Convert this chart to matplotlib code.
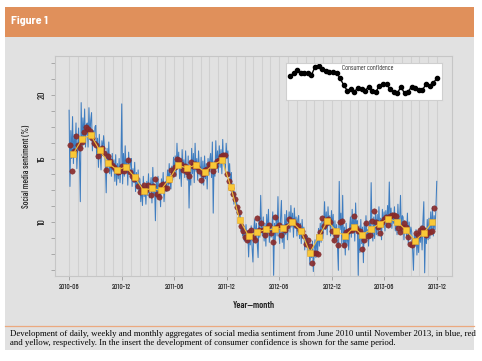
import numpy as np
import pandas as pd
import matplotlib
matplotlib.use('Agg')
import matplotlib.pyplot as plt
import matplotlib.dates as mdates
from matplotlib.patches import Rectangle
from matplotlib.lines import Line2D
from matplotlib.ticker import MultipleLocator, FixedLocator

daily_sentiment = [
    18.8, 12.8, 17.2, 15.0, 18.3, 14.6, 16.9, 15.4, 17.8, 14.2,
    16.0, 17.4, 15.2, 11.6, 19.4, 15.8, 18.2, 16.4, 18.9, 15.9, 17.6,
    17.8, 15.9, 19.0, 16.5, 18.0, 18.6, 15.6, 17.2, 16.1, 17.5,
    17.6, 15.0, 16.6, 14.3, 16.9, 15.2, 14.1, 16.4, 15.6, 16.8,
    15.9, 14.6, 12.3, 15.8, 14.2, 16.3, 13.8, 15.1, 13.6, 15.4, 14.0,
    14.9, 13.2, 15.3, 12.9, 14.6, 13.4, 15.0, 13.1, 14.4, 19.3,
    13.0, 15.4, 13.6, 16.0, 13.9, 14.8, 12.9, 15.5, 13.8, 14.6,
    15.0, 12.8, 14.2, 13.1, 14.7, 12.4, 13.9, 12.6, 14.1, 12.2,
    13.4, 11.6, 12.9, 11.3, 13.6, 12.0, 12.8, 11.4, 13.2, 12.1,
    13.8, 11.9, 12.7, 13.5, 11.5, 14.3, 12.2, 13.0, 10.1, 13.4, 12.0,
    13.6, 11.8, 12.9, 11.2, 13.4, 12.3, 13.9, 11.6, 12.8, 13.2,
    12.4, 14.1, 12.9, 14.6, 13.0, 12.6, 14.4, 13.3, 15.1, 13.8,
    15.2, 13.6, 16.2, 14.3, 15.5, 13.4, 14.8, 12.8, 15.7, 14.0,
    14.9, 13.5, 15.6, 14.0, 13.3, 15.2, 11.1, 14.4, 12.9, 15.8,
    13.8, 15.4, 13.1, 16.2, 14.0, 15.0, 13.3, 15.6, 14.2, 13.6, 15.1,
    13.0, 14.8, 12.9, 15.2, 13.4, 14.6, 12.6, 15.0, 13.7, 14.9,
    15.4, 13.5, 16.3, 10.7, 14.8, 13.6, 16.4, 14.2, 15.6, 13.9,
    16.0, 14.3, 15.7, 13.8, 16.5, 14.6, 15.3, 14.0, 16.2, 15.0,
    15.6, 13.6, 14.6, 12.8, 13.9, 12.1, 13.0, 11.4, 12.4, 11.2,
    11.7, 10.6, 11.2, 9.9, 10.8, 9.3, 10.1, 8.9, 9.6, 8.5, 9.0,
    9.8, 8.4, 9.3, 7.25, 9.1, 8.2, 9.7, 8.0, 6.85, 9.4,
    10.2, 8.6, 9.9, 8.3, 7.2, 10.4, 8.8, 12.1, 9.5, 8.9,
    10.4, 8.5, 9.9, 8.1, 10.6, 9.0, 11.0, 8.4, 9.7, 8.8,
    9.7, 10.8, 5.8, 9.9, 8.6, 10.5, 8.9, 12.0, 9.2, 8.3,
    10.3, 11.7, 8.4, 9.8, 7.9, 10.6, 9.0, 10.9, 8.6, 9.9,
    10.8, 9.2, 11.3, 9.6, 10.7, 8.8, 11.1, 9.5, 10.4, 8.9, 10.2,
    10.5, 8.7, 9.9, 8.3, 10.2, 8.9, 9.6, 7.8, 9.0, 8.4,
    8.9, 7.4, 8.3, 6.6, 7.9, 7.2, 8.5, 6.1, 7.8, 8.6,
    7.2, 9.0, 7.6, 9.5, 8.1, 9.9, 8.4, 10.2, 8.7, 9.8,
    11.6, 9.4, 10.8, 9.0, 11.2, 9.7, 10.5, 8.9, 10.9, 9.6,
    10.6, 8.4, 10.1, 8.9, 9.8, 7.9, 6.2, 13.2, 9.4, 10.7,
    8.3, 12.1, 8.0, 9.6, 7.4, 9.9, 8.2, 9.3, 7.8, 9.5,
    10.4, 8.8, 11.0, 9.1, 10.6, 8.5, 11.5, 9.3, 10.1, 5.8,
    9.7, 7.6, 10.2, 8.3, 9.6, 6.8, 9.9, 8.4, 10.5, 8.7, 9.4,
    8.1, 10.1, 8.8, 13.1, 9.2, 8.5, 10.4, 8.7, 10.8, 9.0,
    10.6, 8.9, 11.2, 9.4, 10.3, 8.6, 11.0, 9.6, 10.8, 9.3,
    10.9, 9.6, 11.3, 10.0, 13.15, 9.8, 11.1, 9.5, 10.7, 9.9,
    11.2, 9.3, 10.6, 9.0, 11.4, 9.7, 10.2, 12.1, 9.2, 10.5,
    10.4, 8.6, 10.1, 9.5, 8.9, 10.7, 8.3, 10.0, 8.8, 9.6,
    9.2, 7.9, 6.2, 9.0, 8.1, 9.4, 7.4, 8.8, 7.6, 9.3,
    8.4, 9.7, 7.8, 10.1, 11.6, 6.0, 9.5, 8.3, 10.2, 8.6,
    10.3, 8.7, 10.8, 9.1, 11.2, 8.9, 10.5, 9.4, 11.0, 13.2,
]

# weekly aggregates (%), from 2010-06-04
weekly_sentiment = [
    16.1, 14.0, 15.6, 16.8, 16.1, 15.8, 16.3, 17.1, 17.5, 17.3,
    17.2, 16.6, 16.2, 16.1, 15.2, 15.6, 15.8, 15.4, 14.1, 15.2,
    14.8, 14.5, 14.3, 14.1, 13.9, 14.0, 14.4, 14.0, 14.3, 14.9,
    13.9, 13.6, 13.4, 13.5, 12.8, 12.4, 12.6, 12.9, 12.5, 12.9,
    12.1, 12.8, 13.4, 12.2, 12.0, 12.9, 13.0, 12.7, 12.65, 13.3,
    14.1, 13.8, 14.3, 15.0, 14.9, 14.6, 14.1, 14.4, 13.9, 13.6,
    14.7, 14.4, 14.6, 14.3, 14.0, 13.3, 13.8, 14.1, 14.2, 14.6,
    14.5, 14.0, 14.4, 14.8, 14.9, 15.2, 15.3, 15.3, 13.8, 13.2,
    12.7, 12.2, 11.8, 11.2, 10.8, 9.7, 9.3, 8.8, 8.6, 9.2,
    9.4, 8.85, 8.6, 10.3, 9.4, 9.9, 9.4, 9.0, 9.5, 9.8,
    9.1, 8.4, 10.4, 9.6, 9.8, 9.0, 9.5, 9.4, 9.7, 10.2,
    10.0, 10.1, 9.8, 9.7, 9.4, 9.3, 8.9, 8.3, 8.6, 8.1,
    6.8, 7.6, 7.6, 7.5, 9.2, 10.3, 9.7, 9.9, 10.2, 10.0,
    9.3, 8.6, 9.0, 8.2, 10.0, 10.1, 8.2, 9.2, 9.3, 9.4,
    9.4, 10.5, 9.5, 9.3, 9.3, 7.9, 8.6, 9.9, 8.9, 9.0,
    10.1, 10.9, 10.0, 9.6, 9.1, 10.0, 10.2, 10.4, 9.8, 10.5,
    10.55, 10.55, 10.5, 9.5, 9.2, 9.6, 9.9, 9.6, 8.8, 8.3,
    8.2, 8.5, 9.1, 9.0, 9.4, 9.5, 9.4, 9.0, 9.2, 9.24,
    9.3, 11.1,
]

# monthly aggregates (%), Jun 2010 - Nov 2013
monthly_sentiment = [
    15.35, 16.5, 16.85, 15.67, 14.67, 14.07, 14.35,
    13.54, 12.47, 12.65, 12.5, 13.36, 14.49, 14.23, 14.49, 13.94, 14.49, 14.88, 12.78,
    10.16, 8.9, 9.2, 9.42, 9.42, 9.5, 10.02, 9.3, 7.6, 8.8, 10.08, 9.3,
    8.9, 9.58, 8.98, 9.42, 9.87, 10.26, 10.02, 9.37, 8.53, 9.11, 10.02,
]

# consumer confidence (insert), same months
consumer_confidence = [
    -21.8, -19.0, -15.0, -19.0, -19.0, -18.2, -21.0, -11.0, -9.8, -13.8,
    -16.2, -17.0, -17.0, -18.2, -25.0, -33.0, -39.8, -38.2, -41.0, -36.2,
    -38.2, -39.8, -35.0, -39.8, -41.0, -33.8, -32.2, -32.2, -38.2, -41.8,
    -43.0, -35.0, -43.0, -41.0, -35.0, -36.2, -39.0, -39.0, -32.2, -33.8,
    -31.0, -25.0,
]

tick_months = ['2010-06', '2010-12', '2011-06', '2011-12',
               '2012-06', '2012-12', '2013-06', '2013-12']

caption_lines = [
    'Development of daily, weekly and monthly aggregates of social media sentiment from June 2010 until November 2013, in blue, red',
    'and yellow, respectively. In the insert the development of consumer confidence is shown for the same period.',
]

daily_dates = pd.date_range('2010-06-01', periods=len(daily_sentiment), freq='3D')
weekly_dates = pd.date_range('2010-06-04', periods=len(weekly_sentiment), freq='7D')
monthly_dates = pd.date_range('2010-06-01', periods=len(monthly_sentiment), freq='MS') + pd.Timedelta(days=14)
grid_months = pd.date_range('2010-06-01', '2013-12-01', freq='MS')
tick_dates = pd.to_datetime([m + '-01' for m in tick_months])

W, H = 482, 361
NARROW = ['Barlow Condensed', 'DejaVu Sans']
SEMI = ['Barlow Semi Condensed', 'DejaVu Sans']


def box(x0, y0, x1, y1):
    # pixel box (top-left origin) -> figure fraction rect
    return [x0 / W, 1 - y1 / H, (x1 - x0) / W, (y1 - y0) / H]


fig = plt.figure(figsize=(W / 100, H / 100), dpi=100)
fig.patch.set_facecolor('white')

# panel background, header bar, caption separator
b = box(5, 37, 474, 350)
fig.add_artist(Rectangle((b[0], b[1]), b[2], b[3], transform=fig.transFigure,
                         facecolor='#e1e1e1', edgecolor='none', zorder=0))
b = box(5, 7, 474, 37)
fig.add_artist(Rectangle((b[0], b[1]), b[2], b[3], transform=fig.transFigure,
                         facecolor='#e0905b', edgecolor='none', zorder=0))
fig.add_artist(Line2D([5 / W, 474 / W], [1 - 326 / H] * 2, transform=fig.transFigure,
                      color='#eba97f', lw=0.9))
fig.text(11 / W, 1 - 21.5 / H, 'Figure 1', color='white', fontsize=8.6, fontweight='bold',
         family=SEMI, va='center', ha='left')

# main chart
ax = fig.add_axes(box(55, 56, 452, 276))
ax.set_facecolor('none')
for s in ax.spines.values():
    s.set_color('#c6c6c6')
    s.set_linewidth(0.8)

ax.plot(daily_dates, daily_sentiment, color='#3f7dc0', lw=0.75, zorder=2)
ax.plot(weekly_dates, weekly_sentiment, 'o', ms=3.9, color='#8a2c2c', mec='#7d2626',
        mew=0.3, alpha=0.92, zorder=3)
ax.plot(monthly_dates, monthly_sentiment, '-', color='#f2c03a', lw=0.8, zorder=4)
ax.plot(monthly_dates, monthly_sentiment, 's', ms=4.3, color='#f9c837', mec='#eaa92a',
        mew=0.4, zorder=5)

ax.set_xlim(pd.Timestamp('2010-04-13'), pd.Timestamp('2014-01-22'))
ax.set_ylim(5.75, 23.07)

ax.xaxis.set_major_locator(FixedLocator(mdates.date2num(tick_dates)))
ax.set_xticklabels(tick_months)
ax.xaxis.set_minor_locator(FixedLocator(mdates.date2num(grid_months)))
ax.grid(which='both', axis='x', color='#d0d0d0', lw=0.8, zorder=0)
ax.set_axisbelow(True)

ax.yaxis.set_major_locator(FixedLocator([10, 15, 20]))
ax.yaxis.set_minor_locator(MultipleLocator(1.25))
ax.tick_params(axis='x', which='minor', length=0)
ax.tick_params(axis='both', which='major', length=3, width=0.7, color='#a8a8a8', pad=3)
ax.tick_params(axis='x', which='major', labelsize=5.3)
ax.tick_params(axis='y', which='major', labelsize=7)
ax.tick_params(axis='y', which='minor', length=3, width=0.7, color='#a8a8a8')
for lab in ax.get_yticklabels():
    lab.set_rotation(90)
    lab.set_va('center')
for lab in ax.get_xticklabels() + ax.get_yticklabels():
    lab.set_family(NARROW)
    lab.set_color('#2a2a2a')
    lab.set_fontweight('medium')

fig.text(27 / W, 1 - 166 / H, 'Social media sentiment (%)', rotation=90, fontsize=6.2,
         family=NARROW, fontweight='medium', color='#222222', ha='center', va='center')
fig.text(254 / W, 1 - 306 / H, 'Year\u2014month', fontsize=6.8, fontweight='semibold',
         family=NARROW, color='#222222', ha='center', va='center')

# insert: consumer confidence
ins = fig.add_axes(box(286, 63, 442, 100))
ins.set_facecolor('white')
for s in ins.spines.values():
    s.set_color('#cfcfcf')
    s.set_linewidth(0.8)
ins.set_xticks([])
ins.set_yticks([])
ins.plot(np.arange(len(consumer_confidence)), consumer_confidence, 'o-', color='black',
         ms=3, lw=1)
ins.set_xlim(-1.12, len(consumer_confidence) - 1 + 1.48)
ins.set_ylim(-51, -6.6)
ins.text(0.525, 0.86, 'Consumer confidence', transform=ins.transAxes, fontsize=5,
         family=NARROW, color='#333333', ha='center', va='center')

# caption
for i, line in enumerate(caption_lines):
    fig.text(10 / W, 1 - (334 + 9 * i) / H, line, fontsize=6.3, family='Liberation Serif',
             color='black', ha='left', va='center')

fig.savefig('out.png', dpi=100)
